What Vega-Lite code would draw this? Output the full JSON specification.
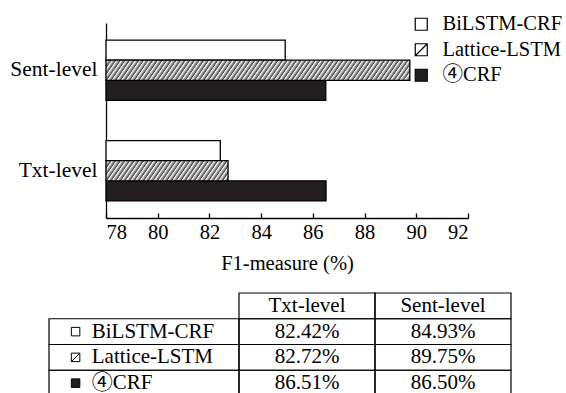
{
  "$schema": "https://vega.github.io/schema/vega-lite/v6.json",
  "width": 362,
  "height": 195,
  "padding": {"left": 9, "top": 14, "right": 2, "bottom": 5},
  "config": {
    "view": {"stroke": null},
    "font": "Liberation Serif, Noto Sans CJK SC",
    "axis": {"grid": false, "labelFont": "Liberation Serif", "titleFont": "Liberation Serif", "labelColor": "black", "titleColor": "black", "domainColor": "black", "tickColor": "black"},
    "legend": {"orient": "none", "legendX": 305, "legendY": -9, "padding": 0, "labelFont": "Liberation Serif, Noto Sans CJK SC", "labelFontSize": 20.5, "labelColor": "black", "symbolSize": 144, "symbolStrokeColor": "black", "symbolStrokeWidth": 1.2, "rowPadding": 4.5, "labelOffset": 11},
    "locale": {"number": {"decimal": ".", "thousands": ",", "grouping": [3], "currency": ["", "%"]}}
  },
  "data": {"values": [
    {"level": "Txt-level", "model": "BiLSTM-CRF", "f1": 82.42},
    {"level": "Txt-level", "model": "Lattice-LSTM", "f1": 82.72},
    {"level": "Txt-level", "model": "④CRF", "f1": 86.51},
    {"level": "Sent-level", "model": "BiLSTM-CRF", "f1": 84.93},
    {"level": "Sent-level", "model": "Lattice-LSTM", "f1": 89.75},
    {"level": "Sent-level", "model": "④CRF", "f1": 86.50}
  ]},
  "layer": [
    {
      "encoding": {
        "y": {"field": "level", "type": "nominal", "sort": ["Sent-level", "Txt-level"], "scale": {"domain": ["Sent-level", "Txt-level"], "paddingInner": 0.4, "paddingOuter": 0.17},
              "axis": {"title": null, "ticks": false, "labelFontSize": 21.5, "labelPadding": 9, "domainWidth": 1.3}},
        "yOffset": {"field": "model", "type": "nominal", "scale": {"domain": ["BiLSTM-CRF", "Lattice-LSTM", "④CRF"], "paddingInner": 0, "paddingOuter": 0}},
        "x": {"field": "f1", "type": "quantitative", "scale": {"domain": [78, 92], "nice": false, "zero": false},
              "axis": {"title": "F1-measure (%)", "values": [78, 80, 82, 84, 86, 88, 90, 92], "tickSize": -5, "tickWidth": 1.3, "domainWidth": 1.3, "labelPadding": 9, "labelFontSize": 20.5, "titleFontSize": 20.5, "titleFontWeight": "normal", "titlePadding": 11}},
        "x2": {"datum": 78}
      },
      "layer": [
        {
          "transform": [{"filter": "datum.model !== 'Lattice-LSTM'"}],
          "mark": {"type": "bar", "stroke": "black", "strokeWidth": 1.3},
          "encoding": {
            "fill": {"field": "model", "type": "nominal", "scale": {"domain": ["BiLSTM-CRF", "Lattice-LSTM", "④CRF"], "range": ["white", "white", "#231f20"]}, "legend": {"title": null}}
          }
        },
        {
          "transform": [{"filter": "datum.model === 'Lattice-LSTM' && datum.level === 'Sent-level'"}],
          "mark": {"type": "bar", "stroke": "black", "strokeWidth": 1.3, "fill": {"gradient": "linear", "x1": 0, "y1": 0, "x2": 1.0511, "y2": 0.0484, "stops": [
            {"offset":0,"color":"#fff"},
            {"offset":0.0022,"color":"#444"},{"offset":0.0044,"color":"#fff"},
            {"offset":0.0167,"color":"#444"},{"offset":0.0189,"color":"#fff"},
            {"offset":0.0312,"color":"#444"},{"offset":0.0334,"color":"#fff"},
            {"offset":0.0457,"color":"#444"},{"offset":0.0479,"color":"#fff"},
            {"offset":0.0602,"color":"#444"},{"offset":0.0624,"color":"#fff"},
            {"offset":0.0747,"color":"#444"},{"offset":0.0769,"color":"#fff"},
            {"offset":0.0892,"color":"#444"},{"offset":0.0914,"color":"#fff"},
            {"offset":0.1037,"color":"#444"},{"offset":0.1059,"color":"#fff"},
            {"offset":0.1182,"color":"#444"},{"offset":0.1204,"color":"#fff"},
            {"offset":0.1327,"color":"#444"},{"offset":0.1349,"color":"#fff"},
            {"offset":0.1472,"color":"#444"},{"offset":0.1494,"color":"#fff"},
            {"offset":0.1617,"color":"#444"},{"offset":0.1639,"color":"#fff"},
            {"offset":0.1762,"color":"#444"},{"offset":0.1784,"color":"#fff"},
            {"offset":0.1907,"color":"#444"},{"offset":0.1929,"color":"#fff"},
            {"offset":0.2052,"color":"#444"},{"offset":0.2074,"color":"#fff"},
            {"offset":0.2197,"color":"#444"},{"offset":0.2219,"color":"#fff"},
            {"offset":0.2342,"color":"#444"},{"offset":0.2364,"color":"#fff"},
            {"offset":0.2487,"color":"#444"},{"offset":0.2509,"color":"#fff"},
            {"offset":0.2632,"color":"#444"},{"offset":0.2654,"color":"#fff"},
            {"offset":0.2777,"color":"#444"},{"offset":0.2799,"color":"#fff"},
            {"offset":0.2922,"color":"#444"},{"offset":0.2944,"color":"#fff"},
            {"offset":0.3067,"color":"#444"},{"offset":0.3089,"color":"#fff"},
            {"offset":0.3212,"color":"#444"},{"offset":0.3234,"color":"#fff"},
            {"offset":0.3357,"color":"#444"},{"offset":0.3379,"color":"#fff"},
            {"offset":0.3502,"color":"#444"},{"offset":0.3524,"color":"#fff"},
            {"offset":0.3647,"color":"#444"},{"offset":0.3669,"color":"#fff"},
            {"offset":0.3792,"color":"#444"},{"offset":0.3814,"color":"#fff"},
            {"offset":0.3937,"color":"#444"},{"offset":0.3959,"color":"#fff"},
            {"offset":0.4082,"color":"#444"},{"offset":0.4104,"color":"#fff"},
            {"offset":0.4227,"color":"#444"},{"offset":0.4249,"color":"#fff"},
            {"offset":0.4372,"color":"#444"},{"offset":0.4394,"color":"#fff"},
            {"offset":0.4517,"color":"#444"},{"offset":0.4539,"color":"#fff"},
            {"offset":0.4662,"color":"#444"},{"offset":0.4684,"color":"#fff"},
            {"offset":0.4807,"color":"#444"},{"offset":0.4829,"color":"#fff"},
            {"offset":0.4952,"color":"#444"},{"offset":0.4974,"color":"#fff"},
            {"offset":0.5097,"color":"#444"},{"offset":0.5119,"color":"#fff"},
            {"offset":0.5242,"color":"#444"},{"offset":0.5264,"color":"#fff"},
            {"offset":0.5387,"color":"#444"},{"offset":0.5409,"color":"#fff"},
            {"offset":0.5532,"color":"#444"},{"offset":0.5554,"color":"#fff"},
            {"offset":0.5677,"color":"#444"},{"offset":0.5699,"color":"#fff"},
            {"offset":0.5822,"color":"#444"},{"offset":0.5844,"color":"#fff"},
            {"offset":0.5967,"color":"#444"},{"offset":0.5989,"color":"#fff"},
            {"offset":0.6112,"color":"#444"},{"offset":0.6134,"color":"#fff"},
            {"offset":0.6257,"color":"#444"},{"offset":0.6279,"color":"#fff"},
            {"offset":0.6402,"color":"#444"},{"offset":0.6424,"color":"#fff"},
            {"offset":0.6547,"color":"#444"},{"offset":0.6569,"color":"#fff"},
            {"offset":0.6692,"color":"#444"},{"offset":0.6714,"color":"#fff"},
            {"offset":0.6837,"color":"#444"},{"offset":0.6859,"color":"#fff"},
            {"offset":0.6982,"color":"#444"},{"offset":0.7004,"color":"#fff"},
            {"offset":0.7127,"color":"#444"},{"offset":0.7149,"color":"#fff"},
            {"offset":0.7272,"color":"#444"},{"offset":0.7294,"color":"#fff"},
            {"offset":0.7417,"color":"#444"},{"offset":0.7439,"color":"#fff"},
            {"offset":0.7562,"color":"#444"},{"offset":0.7584,"color":"#fff"},
            {"offset":0.7707,"color":"#444"},{"offset":0.7729,"color":"#fff"},
            {"offset":0.7852,"color":"#444"},{"offset":0.7874,"color":"#fff"},
            {"offset":0.7997,"color":"#444"},{"offset":0.8019,"color":"#fff"},
            {"offset":0.8142,"color":"#444"},{"offset":0.8164,"color":"#fff"},
            {"offset":0.8287,"color":"#444"},{"offset":0.8309,"color":"#fff"},
            {"offset":0.8432,"color":"#444"},{"offset":0.8454,"color":"#fff"},
            {"offset":0.8577,"color":"#444"},{"offset":0.8599,"color":"#fff"},
            {"offset":0.8722,"color":"#444"},{"offset":0.8744,"color":"#fff"},
            {"offset":0.8867,"color":"#444"},{"offset":0.8889,"color":"#fff"},
            {"offset":0.9012,"color":"#444"},{"offset":0.9034,"color":"#fff"},
            {"offset":0.9157,"color":"#444"},{"offset":0.9179,"color":"#fff"},
            {"offset":0.9302,"color":"#444"},{"offset":0.9324,"color":"#fff"},
            {"offset":0.9447,"color":"#444"},{"offset":0.9469,"color":"#fff"},
            {"offset":0.9592,"color":"#444"},{"offset":0.9614,"color":"#fff"},
            {"offset":0.9737,"color":"#444"},{"offset":0.9759,"color":"#fff"},
            {"offset":0.9882,"color":"#444"},{"offset":0.9904,"color":"#fff"}
          ]}}
        },
        {
          "transform": [{"filter": "datum.model === 'Lattice-LSTM' && datum.level === 'Txt-level'"}],
          "mark": {"type": "bar", "stroke": "black", "strokeWidth": 1.3, "fill": {"gradient": "linear", "x1": 0, "y1": 0, "x2": 2.5878, "y2": 0.2968, "stops": [
            {"offset":0,"color":"#fff"},
            {"offset":0.0022,"color":"#444"},{"offset":0.0044,"color":"#fff"},
            {"offset":0.0167,"color":"#444"},{"offset":0.0189,"color":"#fff"},
            {"offset":0.0312,"color":"#444"},{"offset":0.0334,"color":"#fff"},
            {"offset":0.0457,"color":"#444"},{"offset":0.0479,"color":"#fff"},
            {"offset":0.0602,"color":"#444"},{"offset":0.0624,"color":"#fff"},
            {"offset":0.0747,"color":"#444"},{"offset":0.0769,"color":"#fff"},
            {"offset":0.0892,"color":"#444"},{"offset":0.0914,"color":"#fff"},
            {"offset":0.1037,"color":"#444"},{"offset":0.1059,"color":"#fff"},
            {"offset":0.1182,"color":"#444"},{"offset":0.1204,"color":"#fff"},
            {"offset":0.1327,"color":"#444"},{"offset":0.1349,"color":"#fff"},
            {"offset":0.1472,"color":"#444"},{"offset":0.1494,"color":"#fff"},
            {"offset":0.1617,"color":"#444"},{"offset":0.1639,"color":"#fff"},
            {"offset":0.1762,"color":"#444"},{"offset":0.1784,"color":"#fff"},
            {"offset":0.1907,"color":"#444"},{"offset":0.1929,"color":"#fff"},
            {"offset":0.2052,"color":"#444"},{"offset":0.2074,"color":"#fff"},
            {"offset":0.2197,"color":"#444"},{"offset":0.2219,"color":"#fff"},
            {"offset":0.2342,"color":"#444"},{"offset":0.2364,"color":"#fff"},
            {"offset":0.2487,"color":"#444"},{"offset":0.2509,"color":"#fff"},
            {"offset":0.2632,"color":"#444"},{"offset":0.2654,"color":"#fff"},
            {"offset":0.2777,"color":"#444"},{"offset":0.2799,"color":"#fff"},
            {"offset":0.2922,"color":"#444"},{"offset":0.2944,"color":"#fff"},
            {"offset":0.3067,"color":"#444"},{"offset":0.3089,"color":"#fff"},
            {"offset":0.3212,"color":"#444"},{"offset":0.3234,"color":"#fff"},
            {"offset":0.3357,"color":"#444"},{"offset":0.3379,"color":"#fff"},
            {"offset":0.3502,"color":"#444"},{"offset":0.3524,"color":"#fff"},
            {"offset":0.3647,"color":"#444"},{"offset":0.3669,"color":"#fff"},
            {"offset":0.3792,"color":"#444"},{"offset":0.3814,"color":"#fff"},
            {"offset":0.3937,"color":"#444"},{"offset":0.3959,"color":"#fff"},
            {"offset":0.4082,"color":"#444"},{"offset":0.4104,"color":"#fff"},
            {"offset":0.4227,"color":"#444"},{"offset":0.4249,"color":"#fff"}
          ]}}
        }
      ]
    },
    {
      "layer": [
        {
          "encoding": {
            "x": {"field": "level", "type": "nominal", "scale": {"domain": ["Txt-level", "Sent-level"], "range": [133, 405], "paddingInner": 0, "paddingOuter": 0}, "axis": null},
            "y": {"field": "model", "type": "nominal", "scale": {"domain": ["header", "BiLSTM-CRF", "Lattice-LSTM", "④CRF"], "range": [270, 373], "paddingInner": 0, "paddingOuter": 0}, "axis": null}
          },
          "layer": [
            {
              "mark": {"type": "rect", "filled": false, "stroke": "black", "strokeWidth": 1.2}
            },
            {
              "mark": {"type": "text", "fontSize": 21, "font": "Liberation Serif", "color": "black"},
              "encoding": {"text": {"field": "f1", "type": "quantitative", "format": "$.2f"}}
            },
            {
              "transform": [{"aggregate": [{"op": "count", "as": "n"}], "groupby": ["level"]}],
              "mark": {"type": "rect", "filled": false, "stroke": "black", "strokeWidth": 1.2},
              "encoding": {"y": {"datum": "header", "type": "nominal"}}
            },
            {
              "transform": [{"aggregate": [{"op": "count", "as": "n"}], "groupby": ["level"]}],
              "mark": {"type": "text", "fontSize": 21, "font": "Liberation Serif", "color": "black"},
              "encoding": {"y": {"datum": "header", "type": "nominal"}, "text": {"field": "level", "type": "nominal"}}
            }
          ]
        },
        {
          "transform": [{"filter": "datum.level === 'Txt-level'"}],
          "encoding": {
            "y": {"field": "model", "type": "nominal", "axis": null}
          },
          "layer": [
            {
              "mark": {"type": "rect", "filled": false, "stroke": "black", "strokeWidth": 1.2},
              "encoding": {"x": {"datum": "label", "type": "nominal", "scale": {"domain": ["label"], "range": [-57, 133], "paddingInner": 0, "paddingOuter": 0}, "axis": null}}
            },
            {
              "mark": {"type": "point", "filled": true, "stroke": "black", "strokeWidth": 1, "size": 72, "opacity": 1},
              "encoding": {
                "x": {"datum": "label", "type": "nominal", "bandPosition": 0.14, "axis": null},
                "fill": {"field": "model", "type": "nominal", "legend": {"title": null}},
                "shape": {"field": "model", "type": "nominal", "scale": {"domain": ["BiLSTM-CRF", "Lattice-LSTM", "④CRF"], "range": ["M-1,-1H1V1H-1Z", "M-1,-1H1V1H-1ZM-1,1L1,-1", "M-1,-1H1V1H-1Z"]}, "legend": {"title": null}}
              }
            },
            {
              "mark": {"type": "text", "align": "left", "fontSize": 21, "font": "Liberation Serif, Noto Sans CJK SC", "color": "black"},
              "encoding": {
                "x": {"datum": "label", "type": "nominal", "bandPosition": 0.225, "axis": null},
                "text": {"field": "model", "type": "nominal"}
              }
            }
          ]
        }
      ],
      "resolve": {"scale": {"x": "independent"}}
    }
  ],
  "resolve": {"scale": {"x": "independent", "y": "independent"}}
}
